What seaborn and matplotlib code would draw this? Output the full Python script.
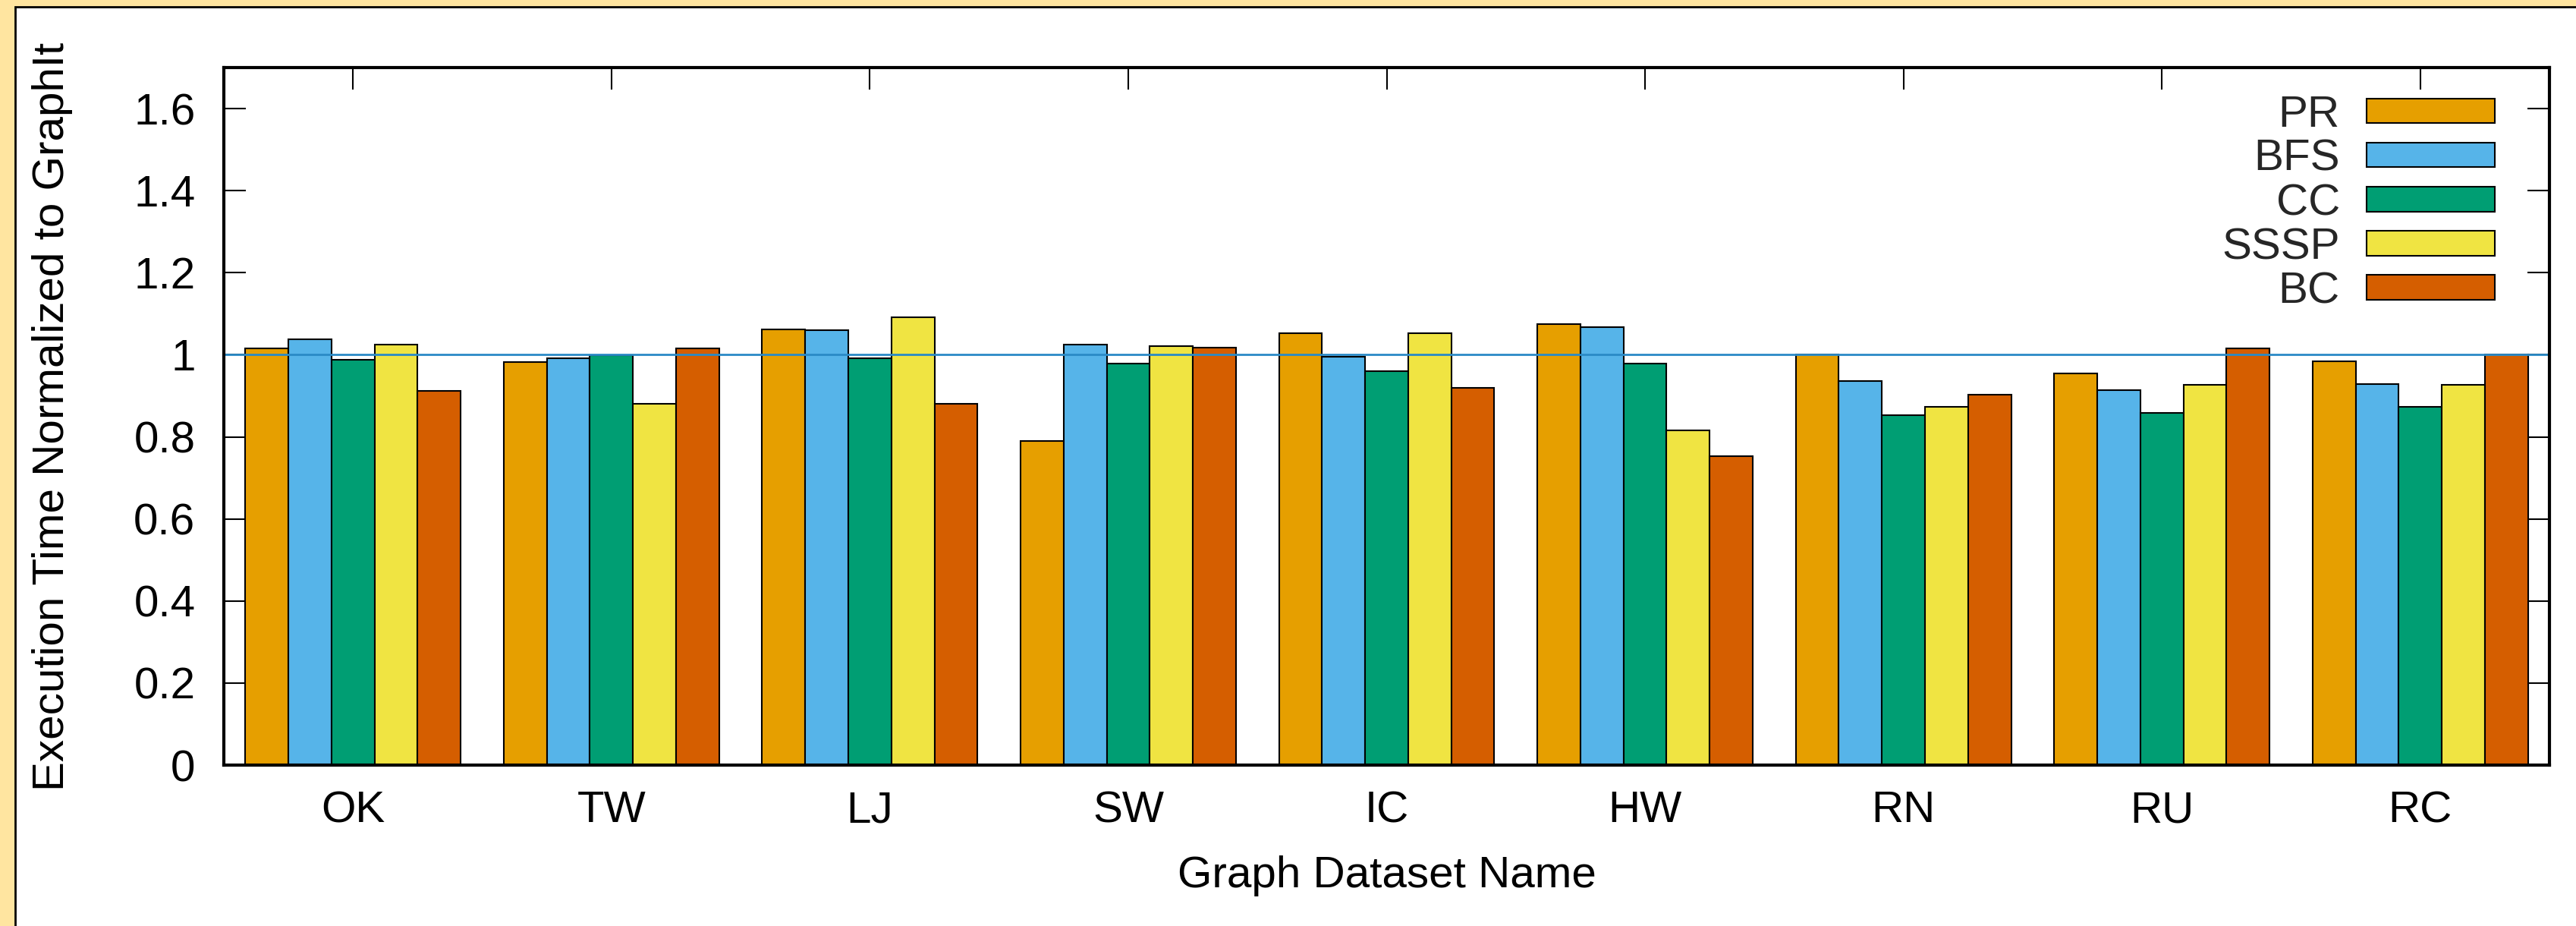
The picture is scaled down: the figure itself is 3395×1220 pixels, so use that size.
import pandas as pd
import matplotlib.pyplot as plt
import matplotlib.ticker as mticker
from matplotlib.patches import Rectangle
import seaborn as sns

# data
datasets = ['OK', 'TW', 'LJ', 'SW', 'IC', 'HW', 'RN', 'RU', 'RC']
algos = ['PR', 'BFS', 'CC', 'SSSP', 'BC']
pr = [1.016, 0.982, 1.062, 0.789, 1.052, 1.075, 1.000, 0.955, 0.985]
bfs = [1.037, 0.992, 1.060, 1.024, 0.996, 1.068, 0.936, 0.913, 0.929]
cc = [0.988, 0.998, 0.991, 0.978, 0.960, 0.978, 0.852, 0.858, 0.873]
sssp = [1.025, 0.880, 1.091, 1.021, 1.052, 0.815, 0.874, 0.926, 0.926]
bc = [0.912, 1.016, 0.881, 1.017, 0.920, 0.753, 0.903, 1.016, 1.000]
yticks = [0, 0.2, 0.4, 0.6, 0.8, 1.0, 1.2, 1.4, 1.6]

colors = ['#E69F00', '#56B4E9', '#009E73', '#F0E442', '#D55E00']

rows = []
for name, vals in zip(algos, [pr, bfs, cc, sssp, bc]):
    for d, v in zip(datasets, vals):
        rows.append({'dataset': d, 'algo': name, 'value': v})
df = pd.DataFrame(rows)

sns.set_theme(style='ticks')
plt.rcParams['font.family'] = ['Liberation Sans', 'DejaVu Sans']

W, H = 3395, 1220
fig = plt.figure(figsize=(W / 100, H / 100), dpi=100)
fig.patch.set_facecolor('#FFE5A0')

# white inner panel with dark border
fig.add_artist(Rectangle((20 / W, -0.01), 1.02, 1 - 9 / H + 0.01,
                         transform=fig.transFigure, facecolor='white',
                         edgecolor='black', linewidth=2, zorder=0))

ax = fig.add_axes([295 / W, 1 - 1008 / H, (3360 - 295) / W, (1008 - 89) / H])
ax.set_facecolor('white')

sns.barplot(data=df, x='dataset', y='value', hue='algo', hue_order=algos,
            order=datasets, palette=colors, width=5 / 6, gap=0,
            edgecolor='black', linewidth=1.5, saturation=1, ax=ax)

ax.axhline(1.0, color='#2a8ac6', linewidth=2, zorder=5)

ax.set_xlim(-0.5, 8.5)
ax.set_ylim(0, 1.7)
ax.set_yticks(yticks)
ax.yaxis.set_major_formatter(mticker.FuncFormatter(lambda v, p: f'{v:g}'))

fs = 42
ax.tick_params(axis='both', direction='in', length=21, width=1.5,
               color='black', labelsize=fs, labelcolor='black')
ax.tick_params(axis='x', bottom=False, top=True, pad=24)
ax.tick_params(axis='y', left=True, right=True, pad=27)

for s in ax.spines.values():
    s.set_visible(True)
    s.set_color('black')
    s.set_linewidth(3)
    s.set_zorder(6)

ax.set_xlabel('Graph Dataset Name', fontsize=fs, color='black')
ax.set_ylabel('Execution Time Normalized to GraphIt', fontsize=fs, color='black')
ax.xaxis.set_label_coords(0.5, -0.13)
ax.yaxis.set_label_coords(-0.0649, 0.5)

handles, labels = ax.get_legend_handles_labels()
leg = ax.legend(handles, labels, loc='upper right',
                bbox_to_anchor=(0.9765, 0.961), frameon=False,
                markerfirst=False, fontsize=fs, borderpad=0,
                borderaxespad=0, handlelength=2.9, handleheight=0.48,
                handletextpad=0.6, labelspacing=0.07)
for h in leg.legend_handles:
    h.set_edgecolor('black')
    h.set_linewidth(1.5)

fig.savefig('out.png', dpi=100, facecolor=fig.get_facecolor())
